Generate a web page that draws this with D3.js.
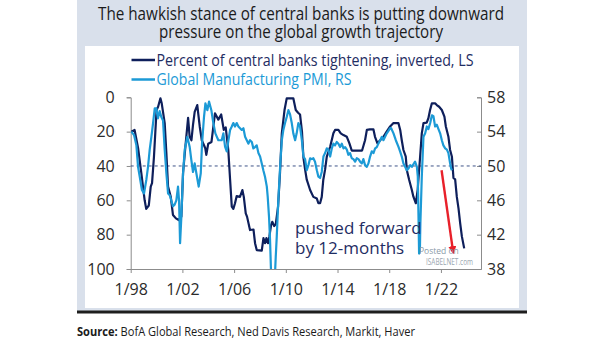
<!DOCTYPE html>
<html>
<head>
<meta charset="utf-8">
<script src="https://cdn.jsdelivr.net/npm/d3@7/dist/d3.min.js"></script>
<style>
  html, body { margin: 0; padding: 0; background: #fff; }
  svg text { font-family: "Open Sans", "Noto Sans", sans-serif; }
</style>
</head>
<body>
<svg id="chart" width="605" height="341"></svg>
<script>
// ---------- Data ----------
// percent of central banks tightening (plotted inverted, left scale), pushed forward 12m
const tightenYears = [1998.05, 1998.3, 1998.57, 1998.82, 1999.08, 1999.2, 1999.4, 1999.55, 1999.65, 1999.8,
  2000.0, 2000.12, 2000.3, 2000.4, 2000.63, 2000.76, 2000.89, 2001.1, 2001.27, 2001.5, 2001.72, 2001.92,
  2002.05, 2002.23, 2002.44, 2002.56, 2002.7, 2002.82, 2002.95, 2003.15, 2003.34, 2003.5, 2003.77, 2003.85,
  2004.0, 2004.25, 2004.52, 2004.78, 2005.0, 2005.2, 2005.35, 2005.55, 2005.69, 2005.82, 2005.94, 2006.07,
  2006.2, 2006.45, 2006.64, 2006.75, 2006.9, 2007.0, 2007.23, 2007.5, 2007.62, 2007.75, 2008.14, 2008.27,
  2008.39, 2008.5, 2008.62, 2008.73, 2008.86, 2008.95, 2009.1, 2009.22, 2009.4, 2009.55, 2009.69, 2009.9,
  2010.07, 2010.58, 2010.77, 2010.95, 2011.1, 2011.25, 2011.36, 2011.49, 2011.62, 2011.88, 2012.13, 2012.4,
  2012.52, 2012.65, 2012.78, 2012.9, 2013.04, 2013.17, 2013.43, 2013.68, 2013.81, 2014.07, 2014.25, 2014.46,
  2014.72, 2014.92, 2015.1, 2015.9, 2016.13, 2016.27, 2016.5, 2016.78, 2016.9, 2017.09, 2017.3, 2017.55,
  2017.8, 2018.07, 2018.33, 2018.71, 2018.85, 2018.97, 2019.1, 2019.28, 2019.36, 2019.54, 2019.75, 2019.87,
  2020.06, 2020.2, 2020.39, 2020.52, 2020.65, 2020.9, 2021.03, 2021.16, 2021.3, 2021.55, 2021.68, 2021.86,
  2022.07, 2022.27, 2022.38, 2022.58, 2022.71, 2022.85, 2022.97, 2023.1, 2023.23, 2023.36, 2023.49, 2023.62,
  2023.8];
const tightenPct = [20, 19, 29.5, 44, 60, 65, 63, 52, 50, 34.6,
  7.4, 5.5, 0.6, 3.5, 15, 32.6, 52, 58, 68.5, 70.5, 71.5, 69.5,
  44, 28.8, 12, 23, 25, 16, 8.5, 4.5, 17, 25, 29.7, 33.5,
  27, 26, 9.3, 13, 10, 19, 17.5, 30.7, 48, 63.7, 65, 61.7,
  57.5, 58, 54, 58, 67.6, 69.5, 77.3, 77, 85, 89, 89.3, 82,
  85, 82, 85, 81, 74.4, 72.5, 75, 74, 63.7, 44, 21, 7.4,
  0.6, 0.6, 7.4, 9, 10, 20, 35, 42, 48, 54, 58, 59,
  61.7, 61.7, 58, 48, 42, 34.6, 28.8, 21, 19, 19, 21, 22,
  23, 26.8, 31, 31, 25, 19, 18.7, 18.7, 23, 26.8, 25, 23,
  20, 17, 15, 15, 19, 25, 30.7, 34.6, 42.3, 48, 54, 57.9,
  61.7, 54, 34.6, 21, 15, 14.8, 12.2, 7.4, 3.5, 3.5, 4.5, 5.5,
  7.4, 11.3, 17, 23, 30.7, 34.6, 47, 47.8, 58, 64.7, 73.4, 81,
  88];

// global manufacturing PMI (right scale)
const pmiYears = [1998.05, 1998.26, 1998.44, 1998.57, 1998.7, 1998.87, 1999.03, 1999.21, 1999.34, 1999.47,
  1999.6, 1999.73, 1999.86, 1999.98, 2000.11, 2000.24, 2000.37, 2000.5, 2000.63, 2000.76, 2000.89, 2001.02,
  2001.14, 2001.27, 2001.4, 2001.53, 2001.66, 2001.74, 2001.82, 2001.92, 2002.05, 2002.18, 2002.38, 2002.56,
  2002.69, 2002.82, 2002.95, 2003.08, 2003.26, 2003.42, 2003.52, 2003.67, 2003.78, 2003.93, 2004.06, 2004.24,
  2004.37, 2004.55, 2004.78, 2005.04, 2005.17, 2005.3, 2005.43, 2005.56, 2005.69, 2005.82, 2005.94, 2006.07,
  2006.2, 2006.33, 2006.46, 2006.59, 2006.72, 2006.85, 2006.98, 2007.1, 2007.23, 2007.37, 2007.49, 2007.62,
  2007.75, 2007.88, 2008.01, 2008.14, 2008.26, 2008.39, 2008.53, 2008.6, 2008.7, 2008.78, 2008.86, 2008.95,
  2009.08, 2009.22, 2009.3, 2009.42, 2009.56, 2009.69, 2009.81, 2009.94, 2010.07, 2010.2, 2010.33, 2010.46,
  2010.58, 2010.72, 2010.84, 2010.97, 2011.1, 2011.24, 2011.36, 2011.49, 2011.62, 2011.75, 2011.88, 2012.01,
  2012.13, 2012.26, 2012.4, 2012.52, 2012.65, 2012.78, 2012.91, 2013.04, 2013.17, 2013.29, 2013.43, 2013.56,
  2013.68, 2013.81, 2013.94, 2014.07, 2014.2, 2014.33, 2014.46, 2014.59, 2014.72, 2014.84, 2014.97, 2015.1,
  2015.23, 2015.36, 2015.49, 2015.62, 2015.75, 2015.88, 2016.0, 2016.13, 2016.27, 2016.39, 2016.52, 2016.65,
  2016.78, 2016.91, 2017.04, 2017.16, 2017.3, 2017.43, 2017.55, 2017.68, 2017.81, 2017.94, 2018.07, 2018.15,
  2018.33, 2018.51, 2018.71, 2018.84, 2018.97, 2019.1, 2019.23, 2019.36, 2019.49, 2019.62, 2019.75, 2019.87,
  2020.0, 2020.14, 2020.21, 2020.26, 2020.31, 2020.37, 2020.41, 2020.52, 2020.65, 2020.78, 2020.91, 2021.03,
  2021.17, 2021.3, 2021.42, 2021.55, 2021.68, 2021.81, 2021.94, 2022.07, 2022.19, 2022.33, 2022.46, 2022.58,
  2022.71, 2022.79, 2022.85];
const pmiValues = [54, 53.6, 52.4, 49.9, 48.75, 47.2, 46.8, 48.4, 49.9, 51.9,
  53.4, 55, 56.7, 56.7, 55.55, 56.4, 55.7, 55.3, 51.9, 49.15, 46.8, 46.6,
  46, 45.3, 45.5, 46, 47.6, 46, 41, 44.1, 49.15, 51.9, 53.4, 52.25,
  50.7, 49.3, 50.3, 49.15, 47.6, 49.15, 52.6, 55.7, 57.3, 56.5, 57.5, 56.5,
  55.2, 53.8, 53, 53, 53.8, 52.25, 51.7, 53, 54.2, 54.6, 55, 54.6,
  55, 54.6, 54.4, 54.2, 54.4, 53.4, 53, 52.6, 53, 52.8, 52.05, 52.2,
  52.4, 51.5, 51.1, 50.3, 49.5, 48.75, 47.6, 46.4, 44.1, 41.4, 37.5, 34,
  34.5, 39.4, 41.8, 46, 49.9, 53, 54.2, 55, 55.7, 56.5, 56, 55,
  53.8, 53, 53.8, 55, 54.6, 53, 51.1, 50.8, 49.5, 50.1, 50.9, 50.8,
  50.9, 50.5, 49.5, 48.75, 48.6, 49.3, 51.1, 51.5, 52.05, 51.9, 51.1, 52.05,
  52.6, 52.4, 52.8, 52.6, 52.2, 52.6, 52.05, 52.2, 51.9, 51.3, 51.5, 50.9,
  50.8, 50.5, 50.9, 50.8, 50.5, 50.3, 50.8, 50.1, 49.9, 50.3, 51.1, 51.7,
  51.5, 52.05, 52.2, 52.6, 53, 53.4, 53, 53.4, 53.8, 54.1, 54.4, 54.4,
  53.8, 53, 52.25, 51.7, 51.1, 50.3, 49.9, 49.5, 49.7, 50.1, 49.9, 50.2,
  50.5, 49.9, 48.75, 44.5, 39.8, 40, 43.3, 48.75, 53.4, 53.8, 54.6, 54.3,
  55, 55.9, 55.8, 54.6, 54.8, 54.3, 53.8, 53, 52.4, 52.05, 51.9, 51.5,
  50.3, 49.7, 49.5];

const xTickYears = [1998, 2002, 2006, 2010, 2014, 2018, 2022];
const leftTicks = [0, 20, 40, 60, 80, 100];
const rightTicks = [38, 42, 46, 50, 54, 58];

const titleLines = ["The hawkish stance of central banks is putting downward",
  "pressure on the global growth trajectory"];
const legendLabels = ["Percent of central banks tightening, inverted, LS", "Global Manufacturing PMI, RS"];

const NAVY = "#0e1f5b";
const LIGHT = "#1c9ad6";

// ---------- Layout ----------
const svg = d3.select("#chart");
const plot = { left: 130.7, right: 481, top: 97.3, bottom: 269 };

const x = d3.scaleLinear().domain([1998, 2025.1]).range([plot.left, plot.right]);
const yL = d3.scaleLinear().domain([0, 100]).range([plot.top, plot.bottom]);
const yR = d3.scaleLinear().domain([38, 58]).range([plot.bottom, plot.top]);

function fitWidth(sel, w) {
  sel.attr("textLength", w).attr("lengthAdjust", "spacingAndGlyphs");
}

// backgrounds
svg.append("rect").attr("x", 77).attr("y", 0).attr("width", 450).attr("height", 312).attr("fill", "#d9e0eb");
svg.append("rect").attr("x", 85).attr("y", 46).attr("width", 434).attr("height", 262).attr("fill", "#fff");
svg.append("rect").attr("x", 77).attr("y", 310.5).attr("width", 450).attr("height", 3).attr("fill", "#1e1e1e");

// title
titleLines.forEach((t, i) => {
  svg.append("text")
    .attr("x", 301).attr("y", i === 0 ? 20 : 37.5)
    .attr("text-anchor", "middle")
    .style("font-size", "17.5px")
    .attr("fill", "#1b1b1b")
    .text(t)
    .call(fitWidth, i === 0 ? 406 : 284);
});

// legend
const legColors = [NAVY, LIGHT];
const legWidths = [317, 195];
legendLabels.forEach((t, i) => {
  const ly = i === 0 ? 60 : 79.5;
  svg.append("line").attr("x1", 131.5).attr("x2", 155).attr("y1", ly).attr("y2", ly)
    .attr("stroke", legColors[i]).attr("stroke-width", 2.5);
  svg.append("text").attr("x", 156.5).attr("y", ly + 5.6)
    .style("font-size", "16.5px")
    .attr("fill", i === 0 ? "#1f2d63" : LIGHT)
    .text(t)
    .call(fitWidth, legWidths[i]);
});

// axes
function styleAxis(g) {
  g.selectAll("path, line").attr("stroke", "#8c8c8c").attr("stroke-width", 1);
  g.selectAll("text").attr("fill", "#2b2b2b").style("font-size", "16px")
    .style("font-family", '"Open Sans", sans-serif');
}

svg.append("g")
  .attr("transform", `translate(${plot.left},0)`)
  .call(d3.axisLeft(yL).tickValues(leftTicks).tickSize(4).tickSizeOuter(4).tickPadding(12))
  .call(styleAxis);

svg.append("g")
  .attr("transform", `translate(${plot.right},0)`)
  .call(d3.axisRight(yR).tickValues(rightTicks).tickSize(-4).tickSizeOuter(-4).tickPadding(6))
  .call(styleAxis);

svg.append("g")
  .attr("transform", `translate(0,${plot.bottom})`)
  .call(d3.axisBottom(x).tickValues(xTickYears).tickSize(4).tickSizeOuter(0).tickPadding(11)
    .tickFormat(d => "1/" + String(d).slice(2)))
  .call(styleAxis);

// dashed reference (40 LS = 50 RS)
svg.append("line")
  .attr("x1", plot.left).attr("x2", plot.right)
  .attr("y1", yL(40)).attr("y2", yL(40))
  .attr("stroke", "#3f5488").attr("stroke-width", 1).attr("stroke-dasharray", "3,3");

// clip
svg.append("clipPath").attr("id", "plotClip")
  .append("rect").attr("x", plot.left).attr("y", plot.top - 3)
  .attr("width", plot.right - plot.left).attr("height", plot.bottom - plot.top + 3);

const tightenData = tightenYears.map((t, i) => ({ t, v: tightenPct[i] }));
const pmiData = pmiYears.map((t, i) => ({ t, v: pmiValues[i] }));

const lines = svg.append("g").attr("clip-path", "url(#plotClip)");

lines.append("path")
  .datum(tightenData)
  .attr("fill", "none").attr("stroke", NAVY).attr("stroke-width", 2.2)
  .attr("stroke-linejoin", "round")
  .attr("d", d3.line().x(d => x(d.t)).y(d => yL(d.v)));

lines.append("path")
  .datum(pmiData)
  .attr("fill", "none").attr("stroke", LIGHT).attr("stroke-width", 2.2)
  .attr("stroke-linejoin", "round")
  .attr("d", d3.line().x(d => x(d.t)).y(d => yR(d.v)));

// annotation
const note = svg.append("text").attr("x", 295).attr("y", 234).style("font-size", "17px").attr("fill", "#1f2d63");
note.append("tspan").attr("x", 295).attr("y", 234).text("pushed forward");
note.append("tspan").attr("x", 295).attr("y", 253.5).text("by 12-months");

// red arrow
svg.append("defs").append("marker")
  .attr("id", "arrowHead").attr("viewBox", "0 0 10 10")
  .attr("refX", 8).attr("refY", 5)
  .attr("markerWidth", 3.4).attr("markerHeight", 3.4)
  .attr("orient", "auto")
  .append("path").attr("d", "M0,0 L10,5 L0,10 z").attr("fill", "#e8202a");

svg.append("line")
  .attr("x1", x(2022.05)).attr("y1", yL(42.5))
  .attr("x2", x(2022.95)).attr("y2", yL(90.5))
  .attr("stroke", "#e8202a").attr("stroke-width", 2.4)
  .attr("marker-end", "url(#arrowHead)");

// watermark
svg.append("text").attr("x", 419).attr("y", 254).style("font-size", "8.5px").attr("fill", "#8a9aa8").text("Posted on");
svg.append("text").attr("x", 426).attr("y", 265).style("font-size", "8.5px").attr("fill", "#9aa6b0")
  .text("ISABELNET.com").call(fitWidth, 47);

// source
const src = svg.append("text").attr("x", 77).attr("y", 336).style("font-size", "13px").attr("fill", "#1b1b1b");
src.append("tspan").style("font-weight", "700").text("Source:");
src.append("tspan").text("  BofA Global Research, Ned Davis Research,  Markit, Haver");
src.call(fitWidth, 338);
</script>
</body>
</html>
